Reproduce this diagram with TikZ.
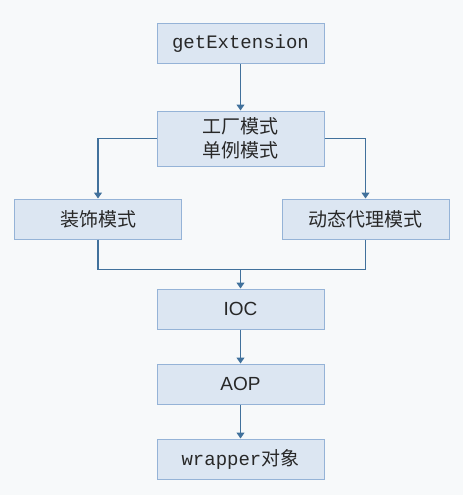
\documentclass[tikz,border=0pt]{standalone}
\usepackage{fontspec}
\setmainfont{Liberation Sans}
\setmonofont{Liberation Mono}
\newfontfamily\cjk{Noto Sans CJK SC}
\usepackage{tikz}
\usetikzlibrary{arrows.meta}

\definecolor{bgcol}{RGB}{247,249,250}
\definecolor{boxfill}{RGB}{220,230,242}
\definecolor{boxline}{RGB}{149,179,215}
\definecolor{arrowcol}{RGB}{65,113,156}
\definecolor{textcol}{RGB}{40,40,40}

\begin{document}
\begin{tikzpicture}
        [
        x=1pt, y=-1pt,
        align=center,
        box/.style={rectangle, fill=boxfill, draw=boxline, line width=1pt, inner sep=0pt,
                    minimum width=167pt, minimum height=40pt, text=textcol,
                    font=\fontsize{19}{24}\selectfont},
        link/.style={draw=arrowcol, line width=1.2pt},
        arrow/.style={link, -{Triangle[length=6pt,width=8pt]}},
        ]
                % background
                \fill[bgcol] (0,0) rectangle (463,495);
                \useasboundingbox (0,0) rectangle (463,495);

                % boxes
                \node[box] (ext) at        (240.5,  44.0) {\ttfamily getExtension};
                \node[box, minimum height=55pt] (fac) at (240.5, 138.5) {\cjk 工厂模式\\\cjk 单例模式};
                \node[box] (dec) at        ( 98.0, 219.0) {\cjk 装饰模式};
                \node[box] (dyn) at        (365.5, 219.0) {\cjk 动态代理模式};
                \node[box] (ioc) at        (240.5, 309.0) {IOC};
                \node[box] (aop) at        (240.5, 384.0) {AOP};
                \node[box] (obj) at        (240.5, 459.0) {\ttfamily wrapper\cjk 对象};

                % merge point
                \coordinate (m) at (240.5, 269.5);

                % drawing code
                \draw[arrow] (fac.west) -| (dec.north);
                \draw[arrow] (fac.east) -| (dyn.north);
                \foreach \from in {dec,dyn} \draw[link] (\from.south) |- (m);
                \draw[arrow] (m) -- (ioc.north);
                \foreach \from/\to in {ext/fac,ioc/aop,aop/obj} \draw[arrow] (\from) -- (\to);
        \end{tikzpicture}
\end{document}
